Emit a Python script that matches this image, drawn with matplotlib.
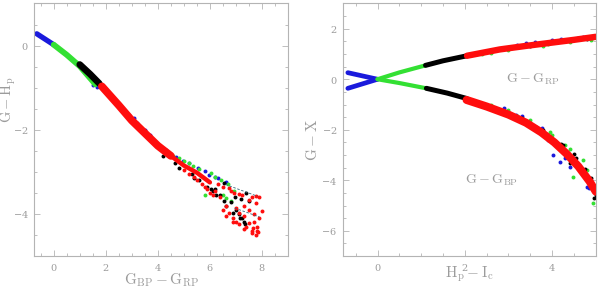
import matplotlib
matplotlib.use("Agg")
import matplotlib.pyplot as plt
from matplotlib.ticker import MultipleLocator

plt.rcParams['mathtext.fontset'] = 'cm'
plt.rcParams['font.family'] = 'serif'
plt.rcParams['font.serif'] = ['DejaVu Serif']
plt.rcParams['axes.formatter.use_mathtext'] = True

GREY = '#9c9c9c'
EDGE = '#b4b4b4'
C_BLUE = '#1a1adc'
C_GREEN = '#33e033'
C_BLACK = '#000000'
C_RED = '#ff0d0d'

# ---- left panel: G-Hp vs BP-RP, dense parts of the sequence ----
l_blue_x = [-0.65, -0.3, 0.0]
l_blue_y = [0.28, 0.14, 0.02]
l_green_x = [0.0, 0.5, 1.0, 1.6]
l_green_y = [0.02, -0.22, -0.49, -0.92]
l_black_x = [1.0, 1.4, 1.75]
l_black_y = [-0.45, -0.68, -0.90]
l_red_x = [1.85, 2.5, 3.0, 3.5, 4.0, 4.5]
l_red_y = [-0.97, -1.42, -1.78, -2.08, -2.38, -2.62]
l_red2_x = [4.5, 5.0, 5.5, 6.0]
l_red2_y = [-2.62, -2.85, -3.02, -3.25]

# scattered stars at the red end
l_sblue_x = [1.5, 1.65, 2.6, 2.9, 3.2, 3.87, 4.44, 4.96, 5.53, 5.98, 6.2,
             2.3, 2.7, 3.1, 3.5, 3.7, 4.1, 4.3, 4.7, 5.2, 5.8, 6.3, 6.6]
l_sblue_y = [-0.93, -0.98, -1.5, -1.65, -1.85, -2.32, -2.59, -2.75, -2.91, -3.07, -3.12,
             -1.28, -1.55, -1.72, -2.0, -2.12, -2.38, -2.48, -2.65, -2.8, -2.98, -3.15, -3.25]
l_sgreen_x = [4.2, 4.6, 5.02, 5.21, 5.34, 6.04, 6.42, 6.94, 5.8, 6.6,
              3.8, 4.0, 4.4, 4.8, 5.6, 6.2, 6.7, 6.5, 6.8]
l_sgreen_y = [-2.45, -2.62, -2.75, -2.79, -2.87, -3.03, -3.19, -3.46, -3.55, -3.62,
              -2.28, -2.4, -2.55, -2.68, -2.93, -3.12, -3.3, -3.55, -3.7]
l_sblack_x = [4.64, 5.3, 5.59, 6.04, 6.23, 6.55, 7.0, 7.25, 7.51, 7.38, 6.55,
              5.9, 6.8, 7.1, 7.3, 4.3,
              3.4, 4.2, 4.8, 5.4, 6.1, 6.6, 6.9, 7.15, 7.35,
              6.2, 6.4, 6.95, 7.2]
l_sblack_y = [-2.8, -3.05, -3.2, -3.4, -3.55, -3.7, -3.90, -4.09, -3.70,
              -3.50, -3.27, -3.35, -3.72, -4.0, -4.2, -2.55,
              -2.05, -2.62, -2.9, -3.15, -3.45, -3.8,
              -3.98, -4.1, -4.25, -3.4, -3.55, -3.6, -3.65]
l_sred_x = [6.74, 6.94, 7.25, 7.51, 7.76, 7.76, 8.02, 7.0, 7.13, 7.51, 7.64, 7.76,
            6.74, 6.61, 6.87, 7.32, 6.2, 6.4, 6.6, 5.9, 6.1, 7.4, 7.6, 7.85, 7.0, 6.5,
            5.2, 5.5, 5.8, 6.0, 6.3, 6.5, 6.8, 7.1, 7.6, 7.9, 7.3, 7.5, 7.7, 7.9,
            6.9, 7.1, 7.3, 7.7, 7.8, 7.8, 7.6, 5.0, 5.4, 5.7]
l_sred_y = [-3.38, -3.50, -3.54, -3.66, -3.58, -3.74, -3.94, -3.86, -3.98, -4.21,
            -4.33, -4.51, -3.98, -4.06, -4.09, -4.05, -3.45, -3.6, -3.8, -3.4, -3.55,
            -4.3, -4.4, -4.42, -4.2, -3.9,
            -3.05, -3.2, -3.35, -3.5, -3.3, -3.35, -3.45, -3.52, -3.6, -3.6, -3.8,
            -3.9, -4.0, -4.1, -4.2, -4.25, -4.35, -4.2, -4.3, -4.4, -4.45, -2.95,
            -3.12, -3.28]

l_dash1_x = [6.6, 7.83]
l_dash1_y = [-3.30, -3.58]
l_dash2_x = [6.95, 7.9]
l_dash2_y = [-3.86, -4.07]

# ---- right panel: G-GRP and G-GBP vs Hp-Ic ----
rp_blue_x = [-0.68, 0.0]
rp_blue_y = [-0.36, 0.0]
rp_green_x = [0.0, 0.5, 1.1]
rp_green_y = [0.0, 0.27, 0.55]
rp_black_x = [1.1, 1.5, 2.05]
rp_black_y = [0.55, 0.73, 0.93]
rp_red_x = [2.05, 2.8, 3.4, 3.95, 4.5, 5.0]
rp_red_y = [0.93, 1.18, 1.32, 1.44, 1.56, 1.68]

bp_blue_x = [-0.68, 0.0]
bp_blue_y = [0.26, 0.0]
bp_green_x = [0.0, 0.5, 1.12]
bp_green_y = [0.0, -0.15, -0.36]
bp_black_x = [1.12, 1.6, 2.04]
bp_black_y = [-0.36, -0.55, -0.76]
bp_red_x = [2.04, 2.5, 3.0, 3.4, 3.75, 4.05, 4.33, 4.6, 4.86, 5.0]
bp_red_y = [-0.82, -1.08, -1.4, -1.72, -2.1, -2.5, -2.95, -3.45, -4.05, -4.45]

r_sblue_x = [3.18, 3.76, 4.02, 4.18, 4.41, 4.8, 3.4, 4.0, 4.6,
             3.3, 3.9, 4.3, 4.6, 4.85, 2.9, 3.2, 3.6, 4.2, 4.7]
r_sblue_y = [-1.42, -1.95, -3.0, -3.28, -3.47, -4.25, 1.42, 1.55, 1.62,
             -1.45, -2.4, -3.1, -3.4, -4.3, -1.15, 1.35, 1.47, 1.6, 1.68]
r_sgreen_x = [3.64, 3.95, 4.48, 4.94, 3.0, 4.3, 4.7, 2.6, 3.8,
              2.6, 3.2, 3.5, 4.0, 4.4, 4.8, 2.4, 3.0, 3.9, 4.4, 4.9]
r_sgreen_y = [-1.88, -2.08, -3.86, -4.91, -1.22, -2.6, -3.2, 1.02, 1.33,
              -1.02, -1.45, -1.6, -2.2, -2.75, -3.6, 1.0, 1.15, 1.38, 1.48, 1.55]
r_sblack_x = [4.2, 4.5, 4.75, 4.95, 3.9, 4.4,
              2.8, 3.3, 3.8, 4.25, 4.55, 4.9, 5.0, 3.5, 4.1, 4.8, 5.0]
r_sblack_y = [-2.55, -2.95, -3.55, -4.7, -2.3, -3.3,
              -1.2, -1.55, -2.0, -2.6, -3.1, -3.9, -4.6, 1.32, 1.48, 1.6, 1.72]

fig = plt.figure(figsize=(6.0, 2.89), dpi=100)
ax1 = fig.add_axes([0.057, 0.114, 0.423, 0.874])
ax2 = fig.add_axes([0.571, 0.114, 0.422, 0.874])

band = dict(solid_capstyle='round', solid_joinstyle='round')
dot = 8

ax1.plot(l_blue_x, l_blue_y, color=C_BLUE, lw=3.8, **band)
ax1.plot(l_green_x, l_green_y, color=C_GREEN, lw=4.2, **band)
ax1.plot(l_black_x, l_black_y, color=C_BLACK, lw=4.8, **band)
ax1.scatter(l_sblue_x, l_sblue_y, s=dot, color=C_BLUE, lw=0)
ax1.scatter(l_sgreen_x, l_sgreen_y, s=dot, color=C_GREEN, lw=0)
ax1.scatter(l_sblack_x, l_sblack_y, s=dot, color=C_BLACK, lw=0)
ax1.plot(l_red_x, l_red_y, color=C_RED, lw=5.6, **band)
ax1.plot(l_red2_x, l_red2_y, color=C_RED, lw=3.2, **band)
ax1.scatter(l_sred_x, l_sred_y, s=dot, color=C_RED, lw=0)
ax1.plot(l_dash1_x, l_dash1_y, color='#336677', lw=0.6, ls=(0, (3, 2)))
ax1.plot(l_dash2_x, l_dash2_y, color='#336677', lw=0.6, ls=(0, (3, 2)))

ax2.scatter(r_sblue_x, r_sblue_y, s=dot, color=C_BLUE, lw=0)
ax2.scatter(r_sgreen_x, r_sgreen_y, s=dot, color=C_GREEN, lw=0)
ax2.scatter(r_sblack_x, r_sblack_y, s=dot, color=C_BLACK, lw=0)
for xs, ys, c, w in [(rp_blue_x, rp_blue_y, C_BLUE, 3.4), (bp_blue_x, bp_blue_y, C_BLUE, 3.4),
                     (rp_green_x, rp_green_y, C_GREEN, 3.0), (bp_green_x, bp_green_y, C_GREEN, 3.0),
                     (rp_black_x, rp_black_y, C_BLACK, 3.6), (bp_black_x, bp_black_y, C_BLACK, 3.6),
                     (rp_red_x, rp_red_y, C_RED, 4.6), (bp_red_x, bp_red_y, C_RED, 5.8)]:
    ax2.plot(xs, ys, color=c, lw=w, **band)

ax2.text(3.55, 0.0, r'$\mathrm{G-G_{RP}}$', color=GREY, fontsize=10, ha='center', va='center')
ax2.text(2.62, -4.0, r'$\mathrm{G-G_{BP}}$', color=GREY, fontsize=10, ha='center', va='center')

ax1.set_xlim(-0.75, 9.0)
ax1.set_ylim(-5, 1)
ax2.set_xlim(-0.8, 5.0)
ax2.set_ylim(-7, 3)

ax1.set_xlabel(r'$\mathrm{G_{BP}-G_{RP}}$', fontsize=11, color=GREY)
ax1.set_ylabel(r'$\mathrm{G-H_p}$', fontsize=10.5, color=GREY)
ax2.set_xlabel(r'$\mathrm{H_p-I_c}$', fontsize=11, color=GREY)
ax2.set_ylabel(r'$\mathrm{G-X}$', fontsize=11, color=GREY)
ax1.xaxis.set_label_coords(0.5, -0.062)
ax1.yaxis.set_label_coords(-0.064, 0.62)
ax2.xaxis.set_label_coords(0.5, -0.035)
ax2.yaxis.set_label_coords(-0.09, 0.46)

for ax in (ax1, ax2):
    ax.xaxis.set_major_locator(MultipleLocator(2))
    ax.xaxis.set_minor_locator(MultipleLocator(0.5))
    ax.yaxis.set_major_locator(MultipleLocator(2))
    ax.yaxis.set_minor_locator(MultipleLocator(0.5))
    ax.tick_params(which='both', direction='in', top=True, right=True,
                   color=EDGE, labelcolor=GREY, labelsize=7, width=0.6, pad=4)
    ax.tick_params(which='major', length=4)
    ax.tick_params(which='minor', length=2)
    for sp in ax.spines.values():
        sp.set_color(EDGE)
        sp.set_linewidth(0.8)

fig.savefig('out.png', dpi=100)
